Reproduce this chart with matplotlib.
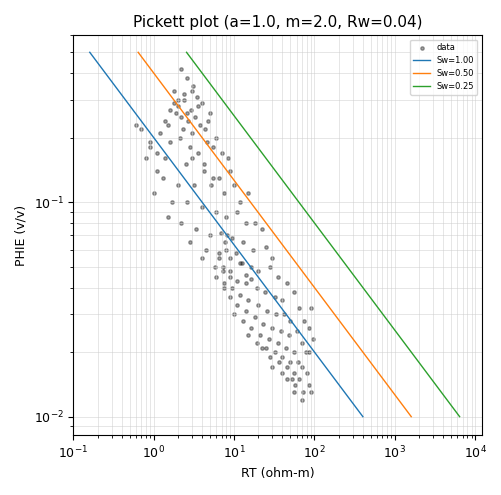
import matplotlib
matplotlib.use("Agg")
import matplotlib.pyplot as plt
import numpy as np

# scatter data (RT, PHIE)
rt = [2.2,2.6,3.1,1.8,2.4,3.5,2.0,2.9,4.0,3.3,1.9,2.7,3.8,5.0,4.4,2.3,6.0,1.5,2.1,3.0,
      4.6,5.5,1.2,1.6,2.8,3.6,7.0,8.5,0.9,1.4,2.5,4.2,9.0,6.5,1.1,0.7,0.8,1.3,2.0,3.2,
      5.2,7.5,10,12,15,0.6,1.0,1.7,2.6,4.0,6.0,8.0,11,14,18,22,1.5,2.2,3.4,5.0,6.8,
      9.5,13,17,25,30,2.8,4.5,6.5,8.8,12,16,20,28,35,45,4.0,5.8,7.2,9.0,11,14,19,24,
      32,40,55,6.0,7.5,9.5,12,15,20,26,33,42,50,65,7.5,9.0,11,14,18,23,30,38,48,60,
      75,90,10,13,16,21,27,35,44,55,70,85,15,19,25,32,40,50,62,78,95,22,28,36,45,
      56,70,85,30,40,52,65,80,45,58,72,90,55,70,85,2.0,2.4,1.8,3.0,1.6,2.2,
      3.6,4.8,2.6,8.0,7.2,6.4,9.0,8.2,7.6,10.5,12.5,14,16,3.0,4.2,5.5,1.4,0.9,1.1]
phie = [0.42,0.38,0.35,0.33,0.30,0.31,0.28,0.27,0.29,0.25,0.26,0.24,0.23,0.26,0.22,0.22,
        0.20,0.23,0.20,0.21,0.19,0.18,0.21,0.19,0.18,0.17,0.17,0.16,0.18,0.16,0.15,0.15,
        0.14,0.13,0.14,0.22,0.16,0.13,0.12,0.12,0.12,0.11,0.12,0.10,0.11,0.23,0.11,0.10,
        0.10,0.095,0.09,0.085,0.09,0.08,0.08,0.075,0.085,0.08,0.075,0.07,0.072,0.068,0.065,
        0.06,0.062,0.055,0.065,0.06,0.058,0.055,0.052,0.05,0.048,0.05,0.045,0.042,0.055,
        0.05,0.048,0.045,0.043,0.042,0.04,0.038,0.036,0.035,0.038,0.045,0.042,0.04,0.037,
        0.035,0.033,0.031,0.03,0.03,0.028,0.032,0.04,0.036,0.033,0.031,0.029,0.027,0.026,
        0.025,0.024,0.025,0.028,0.032,0.03,0.028,0.026,0.024,0.023,0.022,0.021,0.02,0.022,
        0.026,0.024,0.022,0.021,0.02,0.019,0.018,0.018,0.02,0.023,0.021,0.019,0.018,0.017,
        0.016,0.017,0.02,0.017,0.016,0.015,0.015,0.016,0.015,0.014,0.013,0.013,0.013,0.012,
        0.014,0.30,0.32,0.29,0.33,0.27,0.25,0.28,0.24,0.26,0.06,0.05,0.055,0.048,0.07,
        0.065,0.058,0.052,0.046,0.044,0.16,0.14,0.13,0.24,0.19,0.17]

a, m, n, Rw = 1.0, 2.0, 2.0, 0.04
sw_levels = [1.00, 0.50, 0.25]
phi_line = np.array([0.5, 0.01])
colors = ["#1f77b4", "#ff7f0e", "#2ca02c"]

fig, ax = plt.subplots(figsize=(5.02, 4.95), dpi=100)
ax.scatter(rt, phie, s=6, c="black", alpha=0.35, label="data")
for sw, c in zip(sw_levels, colors):
    rtl = a * Rw / (phi_line ** m * sw ** n)
    ax.plot(rtl, phi_line, color=c, lw=1, label=f"Sw={sw:.2f}")
ax.set_xscale("log"); ax.set_yscale("log")
ax.set_xlim(0.1, 1.2e4); ax.set_ylim(0.0082, 0.6)
ax.grid(True, which="both", color="#cccccc", lw=0.5, alpha=0.7)
ax.tick_params(labelsize=9)
ax.set_xlabel("RT (ohm-m)", fontsize=9); ax.set_ylabel("PHIE (v/v)", fontsize=9)
ax.set_title("Pickett plot (a=1.0, m=2.0, Rw=0.04)", fontsize=11)
ax.legend(loc="upper right", fontsize=6)
fig.tight_layout()
fig.savefig("out.png", dpi=100)
